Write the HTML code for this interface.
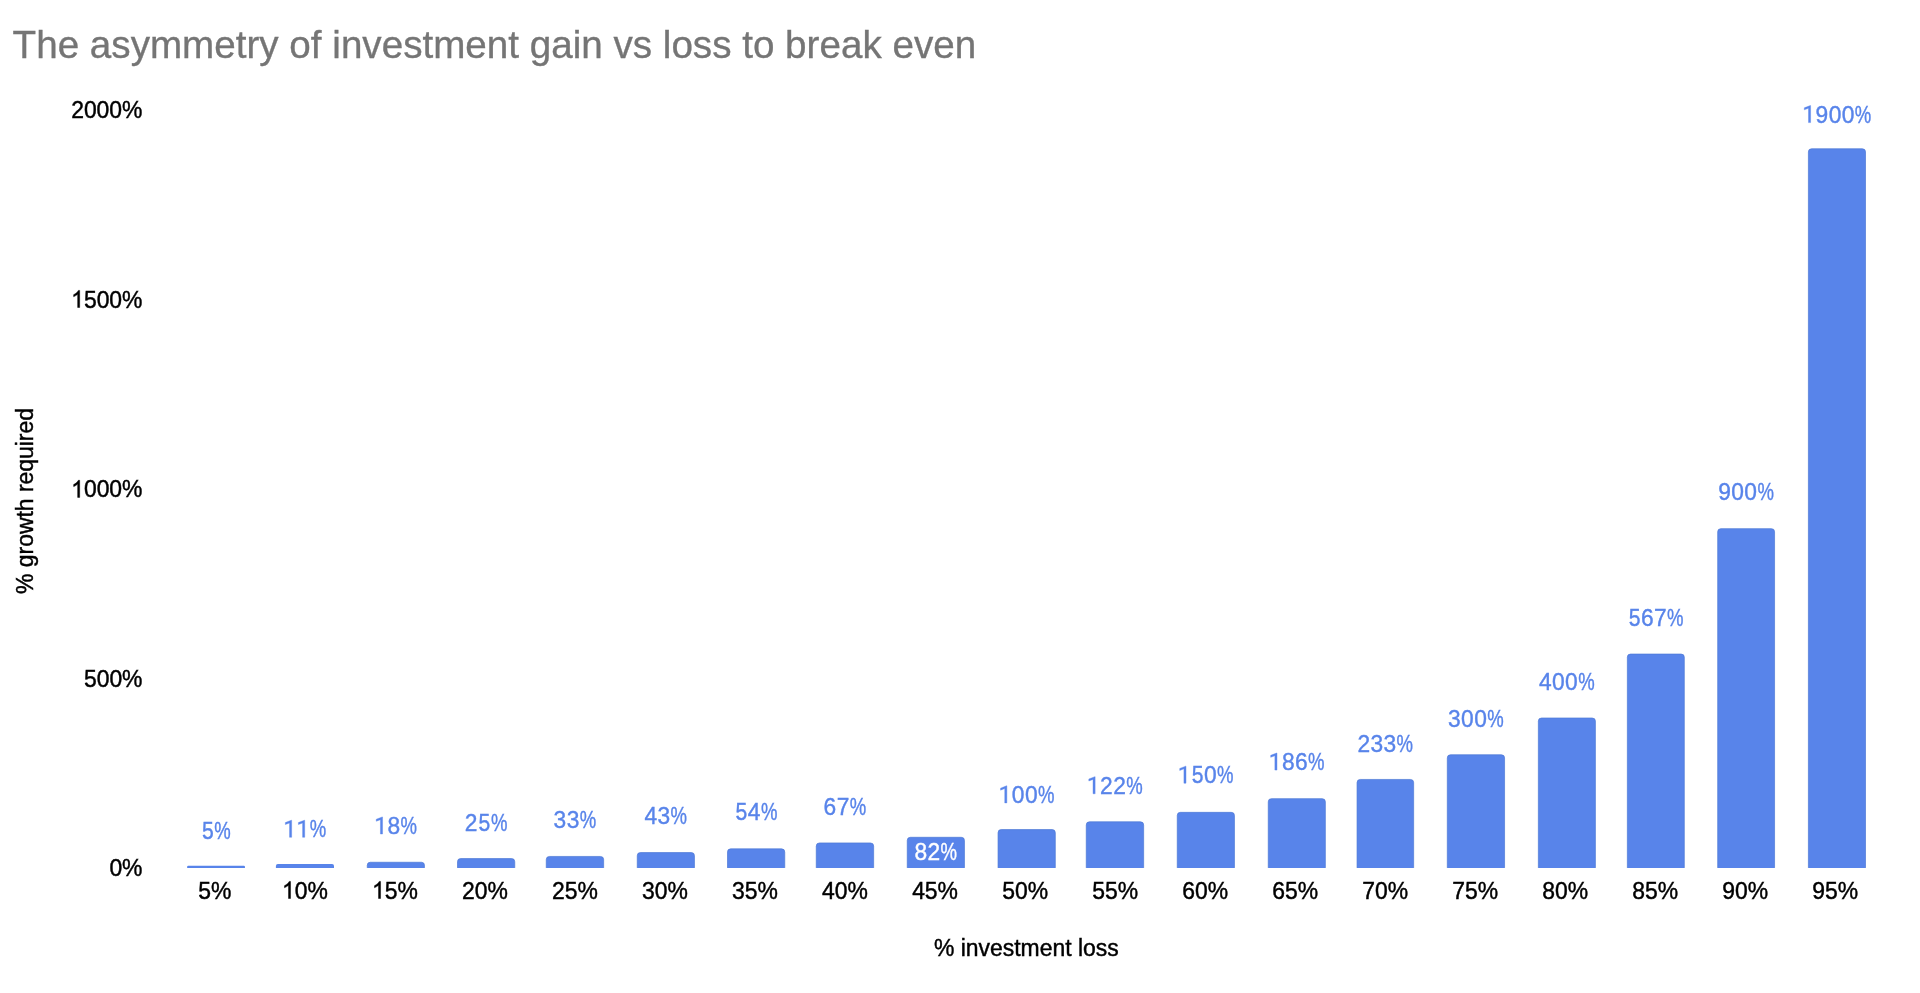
<!DOCTYPE html>
<html><head><meta charset="utf-8"><title>chart</title>
<style>
html,body{margin:0;padding:0;background:#fff;}
body{width:1920px;height:993px;overflow:hidden;font-family:"Liberation Sans",sans-serif;}
svg{display:block;will-change:transform;}
text{font-family:"Liberation Sans",sans-serif;}
.ax{font-size:23.8px;fill:#000;stroke:#000;stroke-width:0.45px;}
.dl{font-size:24px;fill:#5884EA;stroke:#5884EA;stroke-width:0.4px;}
.dw{font-size:24px;fill:#fff;stroke:#fff;stroke-width:0.4px;}
</style></head><body>
<svg width="1920" height="993" viewBox="0 0 1920 993">
<rect x="0" y="0" width="1920" height="993" fill="#ffffff"/>
<text transform="translate(12.6,57.7) scale(0.9827,1)" font-size="39.3" fill="#757575" stroke="#757575" stroke-width="0.35">The asymmetry of investment gain vs loss to break even</text>
<text class="ax" transform="translate(142.50,118.30) scale(0.963,1)" text-anchor="end">2000%</text>
<path class="ax" d="M763,0 L583,0 L583,1147 Q518,1085 412.5,1023 Q307,961 223,930 L223,1104 Q374,1175 487,1276 Q600,1377 647,1472 L763,1472 Z" vector-effect="non-scaling-stroke" transform="translate(71.13,307.50) scale(0.011191,-0.011621)"/>
<text class="ax" transform="translate(83.88,307.50) scale(0.963,1)">5</text>
<text class="ax" transform="translate(96.63,307.50) scale(0.963,1)">0</text>
<text class="ax" transform="translate(109.37,307.50) scale(0.963,1)">0</text>
<text class="ax" transform="translate(122.12,307.50) scale(0.963,1)">%</text>
<path class="ax" d="M763,0 L583,0 L583,1147 Q518,1085 412.5,1023 Q307,961 223,930 L223,1104 Q374,1175 487,1276 Q600,1377 647,1472 L763,1472 Z" vector-effect="non-scaling-stroke" transform="translate(71.13,497.40) scale(0.011191,-0.011621)"/>
<text class="ax" transform="translate(83.88,497.40) scale(0.963,1)">0</text>
<text class="ax" transform="translate(96.63,497.40) scale(0.963,1)">0</text>
<text class="ax" transform="translate(109.37,497.40) scale(0.963,1)">0</text>
<text class="ax" transform="translate(122.12,497.40) scale(0.963,1)">%</text>
<text class="ax" transform="translate(142.50,687.00) scale(0.963,1)" text-anchor="end">500%</text>
<text class="ax" transform="translate(142.50,875.50) scale(0.963,1)" text-anchor="end">0%</text>
<path d="M187.15,867.9 V866.80 Q187.15,865.70 188.25,865.70 H243.85 Q244.95,865.70 244.95,866.80 V867.9" fill="#5884EA" stroke="#4E79D6" stroke-width="0"/>
<text class="ax" transform="translate(214.90,898.50) scale(0.963,1)" text-anchor="middle">5%</text>
<text class="dl" text-anchor="middle" transform="translate(207.85,838.70) scale(0.88,1)">5</text>
<text class="dl" transform="translate(214.28,838.70) scale(0.772,1)">%</text>
<path d="M275.90,867.9 V865.95 Q275.90,864.00 277.85,864.00 H332.05 Q334.00,864.00 334.00,865.95 V867.9" fill="#5884EA" stroke="#4E79D6" stroke-width="0"/>
<path class="ax" d="M763,0 L583,0 L583,1147 Q518,1085 412.5,1023 Q307,961 223,930 L223,1104 Q374,1175 487,1276 Q600,1377 647,1472 L763,1472 Z" vector-effect="non-scaling-stroke" transform="translate(281.98,898.50) scale(0.011191,-0.011621)"/>
<text class="ax" transform="translate(294.73,898.50) scale(0.963,1)">0</text>
<text class="ax" transform="translate(307.48,898.50) scale(0.963,1)">%</text>
<path class="dl" d="M729,0 L544,0 L544,1226 L173,1090 L173,1257 L700,1455 L729,1455 Z" transform="translate(283.40,837.30) scale(0.011309,-0.01171875)" vector-effect="non-scaling-stroke"/>
<path class="dl" d="M729,0 L544,0 L544,1226 L173,1090 L173,1257 L700,1455 L729,1455 Z" transform="translate(296.45,837.30) scale(0.011309,-0.01171875)" vector-effect="non-scaling-stroke"/>
<text class="dl" transform="translate(309.70,837.30) scale(0.772,1)">%</text>
<path d="M367.25,867.9 V865.25 Q367.25,862.25 370.25,862.25 H421.45 Q424.45,862.25 424.45,865.25 V867.9" fill="#5884EA" stroke="#4E79D6" stroke-width="0.7"/>
<path class="ax" d="M763,0 L583,0 L583,1147 Q518,1085 412.5,1023 Q307,961 223,930 L223,1104 Q374,1175 487,1276 Q600,1377 647,1472 L763,1472 Z" vector-effect="non-scaling-stroke" transform="translate(372.00,898.50) scale(0.011191,-0.011621)"/>
<text class="ax" transform="translate(384.75,898.50) scale(0.963,1)">5</text>
<text class="ax" transform="translate(397.50,898.50) scale(0.963,1)">%</text>
<path class="dl" d="M729,0 L544,0 L544,1226 L173,1090 L173,1257 L700,1455 L729,1455 Z" transform="translate(374.30,834.00) scale(0.011309,-0.01171875)" vector-effect="non-scaling-stroke"/>
<text class="dl" text-anchor="middle" transform="translate(393.88,834.00) scale(0.95,1)">8</text>
<text class="dl" transform="translate(400.60,834.00) scale(0.772,1)">%</text>
<path d="M457.50,867.9 V861.75 Q457.50,858.55 460.70,858.55 H511.55 Q514.75,858.55 514.75,861.75 V867.9" fill="#5884EA" stroke="#4E79D6" stroke-width="0.7"/>
<text class="ax" transform="translate(484.96,898.50) scale(0.963,1)" text-anchor="middle">20%</text>
<text class="dl" text-anchor="middle" transform="translate(471.10,831.10) scale(0.95,1)">2</text>
<text class="dl" text-anchor="middle" transform="translate(484.45,831.10) scale(0.88,1)">5</text>
<text class="dl" transform="translate(490.88,831.10) scale(0.772,1)">%</text>
<path d="M546.25,867.9 V859.65 Q546.25,856.45 549.45,856.45 H600.45 Q603.65,856.45 603.65,859.65 V867.9" fill="#5884EA" stroke="#4E79D6" stroke-width="0.7"/>
<text class="ax" transform="translate(574.98,898.50) scale(0.963,1)" text-anchor="middle">25%</text>
<text class="dl" text-anchor="middle" transform="translate(559.93,828.00) scale(0.95,1)">3</text>
<text class="dl" text-anchor="middle" transform="translate(572.98,828.00) scale(0.95,1)">3</text>
<text class="dl" transform="translate(579.70,828.00) scale(0.772,1)">%</text>
<path d="M637.25,867.9 V855.75 Q637.25,852.55 640.45,852.55 H691.25 Q694.45,852.55 694.45,855.75 V867.9" fill="#5884EA" stroke="#4E79D6" stroke-width="0.7"/>
<text class="ax" transform="translate(665.00,898.50) scale(0.963,1)" text-anchor="middle">30%</text>
<text class="dl" text-anchor="middle" transform="translate(650.82,824.20) scale(0.95,1)">4</text>
<text class="dl" text-anchor="middle" transform="translate(663.87,824.20) scale(0.95,1)">3</text>
<text class="dl" transform="translate(670.60,824.20) scale(0.772,1)">%</text>
<path d="M727.50,867.9 V852.05 Q727.50,848.85 730.70,848.85 H781.55 Q784.75,848.85 784.75,852.05 V867.9" fill="#5884EA" stroke="#4E79D6" stroke-width="0.7"/>
<text class="ax" transform="translate(755.02,898.50) scale(0.963,1)" text-anchor="middle">35%</text>
<text class="dl" text-anchor="middle" transform="translate(741.40,820.10) scale(0.88,1)">5</text>
<text class="dl" text-anchor="middle" transform="translate(754.15,820.10) scale(0.95,1)">4</text>
<text class="dl" transform="translate(760.88,820.10) scale(0.772,1)">%</text>
<path d="M816.25,867.9 V846.15 Q816.25,842.95 819.45,842.95 H870.45 Q873.65,842.95 873.65,846.15 V867.9" fill="#5884EA" stroke="#4E79D6" stroke-width="0.7"/>
<text class="ax" transform="translate(845.04,898.50) scale(0.963,1)" text-anchor="middle">40%</text>
<text class="dl" text-anchor="middle" transform="translate(829.93,815.20) scale(0.95,1)">6</text>
<text class="dl" text-anchor="middle" transform="translate(842.98,815.20) scale(0.95,1)">7</text>
<text class="dl" transform="translate(849.70,815.20) scale(0.772,1)">%</text>
<path d="M907.25,867.9 V840.50 Q907.25,837.30 910.45,837.30 H961.25 Q964.45,837.30 964.45,840.50 V867.9" fill="#5884EA" stroke="#4E79D6" stroke-width="0.7"/>
<text class="ax" transform="translate(935.06,898.50) scale(0.963,1)" text-anchor="middle">45%</text>
<text class="dw" text-anchor="middle" transform="translate(920.82,860.20) scale(0.95,1)">8</text>
<text class="dw" text-anchor="middle" transform="translate(933.87,860.20) scale(0.95,1)">2</text>
<text class="dw" transform="translate(940.60,860.20) scale(0.772,1)">%</text>
<path d="M998.05,867.9 V832.75 Q998.05,829.55 1001.25,829.55 H1052.10 Q1055.30,829.55 1055.30,832.75 V867.9" fill="#5884EA" stroke="#4E79D6" stroke-width="0.7"/>
<text class="ax" transform="translate(1025.08,898.50) scale(0.963,1)" text-anchor="middle">50%</text>
<path class="dl" d="M729,0 L544,0 L544,1226 L173,1090 L173,1257 L700,1455 L729,1455 Z" transform="translate(998.60,802.90) scale(0.011309,-0.01171875)" vector-effect="non-scaling-stroke"/>
<text class="dl" text-anchor="middle" transform="translate(1018.18,802.90) scale(0.95,1)">0</text>
<text class="dl" text-anchor="middle" transform="translate(1031.23,802.90) scale(0.95,1)">0</text>
<text class="dl" transform="translate(1037.95,802.90) scale(0.772,1)">%</text>
<path d="M1086.25,867.9 V825.00 Q1086.25,821.80 1089.45,821.80 H1140.45 Q1143.65,821.80 1143.65,825.00 V867.9" fill="#5884EA" stroke="#4E79D6" stroke-width="0.7"/>
<text class="ax" transform="translate(1115.10,898.50) scale(0.963,1)" text-anchor="middle">55%</text>
<path class="dl" d="M729,0 L544,0 L544,1226 L173,1090 L173,1257 L700,1455 L729,1455 Z" transform="translate(1086.88,793.75) scale(0.011309,-0.01171875)" vector-effect="non-scaling-stroke"/>
<text class="dl" text-anchor="middle" transform="translate(1106.45,793.75) scale(0.95,1)">2</text>
<text class="dl" text-anchor="middle" transform="translate(1119.50,793.75) scale(0.95,1)">2</text>
<text class="dl" transform="translate(1126.23,793.75) scale(0.772,1)">%</text>
<path d="M1177.25,867.9 V815.55 Q1177.25,812.35 1180.45,812.35 H1231.25 Q1234.45,812.35 1234.45,815.55 V867.9" fill="#5884EA" stroke="#4E79D6" stroke-width="0.7"/>
<text class="ax" transform="translate(1205.12,898.50) scale(0.963,1)" text-anchor="middle">60%</text>
<path class="dl" d="M729,0 L544,0 L544,1226 L173,1090 L173,1257 L700,1455 L729,1455 Z" transform="translate(1177.77,783.20) scale(0.011309,-0.01171875)" vector-effect="non-scaling-stroke"/>
<text class="dl" text-anchor="middle" transform="translate(1197.65,783.20) scale(0.88,1)">5</text>
<text class="dl" text-anchor="middle" transform="translate(1210.40,783.20) scale(0.95,1)">0</text>
<text class="dl" transform="translate(1217.12,783.20) scale(0.772,1)">%</text>
<path d="M1268.25,867.9 V801.85 Q1268.25,798.65 1271.45,798.65 H1322.15 Q1325.35,798.65 1325.35,801.85 V867.9" fill="#5884EA" stroke="#4E79D6" stroke-width="0.7"/>
<text class="ax" transform="translate(1295.14,898.50) scale(0.963,1)" text-anchor="middle">65%</text>
<path class="dl" d="M729,0 L544,0 L544,1226 L173,1090 L173,1257 L700,1455 L729,1455 Z" transform="translate(1268.73,770.10) scale(0.011309,-0.01171875)" vector-effect="non-scaling-stroke"/>
<text class="dl" text-anchor="middle" transform="translate(1288.30,770.10) scale(0.95,1)">8</text>
<text class="dl" text-anchor="middle" transform="translate(1301.35,770.10) scale(0.95,1)">6</text>
<text class="dl" transform="translate(1308.08,770.10) scale(0.772,1)">%</text>
<path d="M1357.05,867.9 V782.65 Q1357.05,779.45 1360.25,779.45 H1410.45 Q1413.65,779.45 1413.65,782.65 V867.9" fill="#5884EA" stroke="#4E79D6" stroke-width="0.7"/>
<text class="ax" transform="translate(1385.16,898.50) scale(0.963,1)" text-anchor="middle">70%</text>
<text class="dl" text-anchor="middle" transform="translate(1363.80,751.75) scale(0.95,1)">2</text>
<text class="dl" text-anchor="middle" transform="translate(1376.85,751.75) scale(0.95,1)">3</text>
<text class="dl" text-anchor="middle" transform="translate(1389.90,751.75) scale(0.95,1)">3</text>
<text class="dl" transform="translate(1396.62,751.75) scale(0.772,1)">%</text>
<path d="M1447.30,867.9 V757.95 Q1447.30,754.75 1450.50,754.75 H1501.35 Q1504.55,754.75 1504.55,757.95 V867.9" fill="#5884EA" stroke="#4E79D6" stroke-width="0.7"/>
<text class="ax" transform="translate(1475.18,898.50) scale(0.963,1)" text-anchor="middle">75%</text>
<text class="dl" text-anchor="middle" transform="translate(1454.38,726.90) scale(0.95,1)">3</text>
<text class="dl" text-anchor="middle" transform="translate(1467.43,726.90) scale(0.95,1)">0</text>
<text class="dl" text-anchor="middle" transform="translate(1480.48,726.90) scale(0.95,1)">0</text>
<text class="dl" transform="translate(1487.20,726.90) scale(0.772,1)">%</text>
<path d="M1538.35,867.9 V721.20 Q1538.35,718.00 1541.55,718.00 H1592.20 Q1595.40,718.00 1595.40,721.20 V867.9" fill="#5884EA" stroke="#4E79D6" stroke-width="0.7"/>
<text class="ax" transform="translate(1565.20,898.50) scale(0.963,1)" text-anchor="middle">80%</text>
<text class="dl" text-anchor="middle" transform="translate(1545.33,689.50) scale(0.95,1)">4</text>
<text class="dl" text-anchor="middle" transform="translate(1558.38,689.50) scale(0.95,1)">0</text>
<text class="dl" text-anchor="middle" transform="translate(1571.42,689.50) scale(0.95,1)">0</text>
<text class="dl" transform="translate(1578.15,689.50) scale(0.772,1)">%</text>
<path d="M1627.35,867.9 V657.25 Q1627.35,654.05 1630.55,654.05 H1681.10 Q1684.30,654.05 1684.30,657.25 V867.9" fill="#5884EA" stroke="#4E79D6" stroke-width="0.7"/>
<text class="ax" transform="translate(1655.22,898.50) scale(0.963,1)" text-anchor="middle">85%</text>
<text class="dl" text-anchor="middle" transform="translate(1634.58,626.40) scale(0.88,1)">5</text>
<text class="dl" text-anchor="middle" transform="translate(1647.33,626.40) scale(0.95,1)">6</text>
<text class="dl" text-anchor="middle" transform="translate(1660.38,626.40) scale(0.95,1)">7</text>
<text class="dl" transform="translate(1667.10,626.40) scale(0.772,1)">%</text>
<path d="M1717.70,867.9 V531.85 Q1717.70,528.65 1720.90,528.65 H1771.35 Q1774.55,528.65 1774.55,531.85 V867.9" fill="#5884EA" stroke="#4E79D6" stroke-width="0.7"/>
<text class="ax" transform="translate(1745.24,898.50) scale(0.963,1)" text-anchor="middle">90%</text>
<text class="dl" text-anchor="middle" transform="translate(1724.58,500.20) scale(0.95,1)">9</text>
<text class="dl" text-anchor="middle" transform="translate(1737.62,500.20) scale(0.95,1)">0</text>
<text class="dl" text-anchor="middle" transform="translate(1750.67,500.20) scale(0.95,1)">0</text>
<text class="dl" transform="translate(1757.40,500.20) scale(0.772,1)">%</text>
<path d="M1808.40,867.9 V151.95 Q1808.40,148.75 1811.60,148.75 H1862.30 Q1865.50,148.75 1865.50,151.95 V867.9" fill="#5884EA" stroke="#4E79D6" stroke-width="0.7"/>
<text class="ax" transform="translate(1835.26,898.50) scale(0.963,1)" text-anchor="middle">95%</text>
<path class="dl" d="M729,0 L544,0 L544,1226 L173,1090 L173,1257 L700,1455 L729,1455 Z" transform="translate(1802.35,122.60) scale(0.011309,-0.01171875)" vector-effect="non-scaling-stroke"/>
<text class="dl" text-anchor="middle" transform="translate(1821.92,122.60) scale(0.95,1)">9</text>
<text class="dl" text-anchor="middle" transform="translate(1834.97,122.60) scale(0.95,1)">0</text>
<text class="dl" text-anchor="middle" transform="translate(1848.03,122.60) scale(0.95,1)">0</text>
<text class="dl" transform="translate(1854.75,122.60) scale(0.772,1)">%</text>
<text class="ax" transform="translate(1026.30,956.40) scale(0.963,1)" text-anchor="middle">% investment loss</text>
<text class="ax" transform="translate(32.6,501) rotate(-90) scale(0.963,1)" text-anchor="middle">% growth required</text>
</svg></body></html>
